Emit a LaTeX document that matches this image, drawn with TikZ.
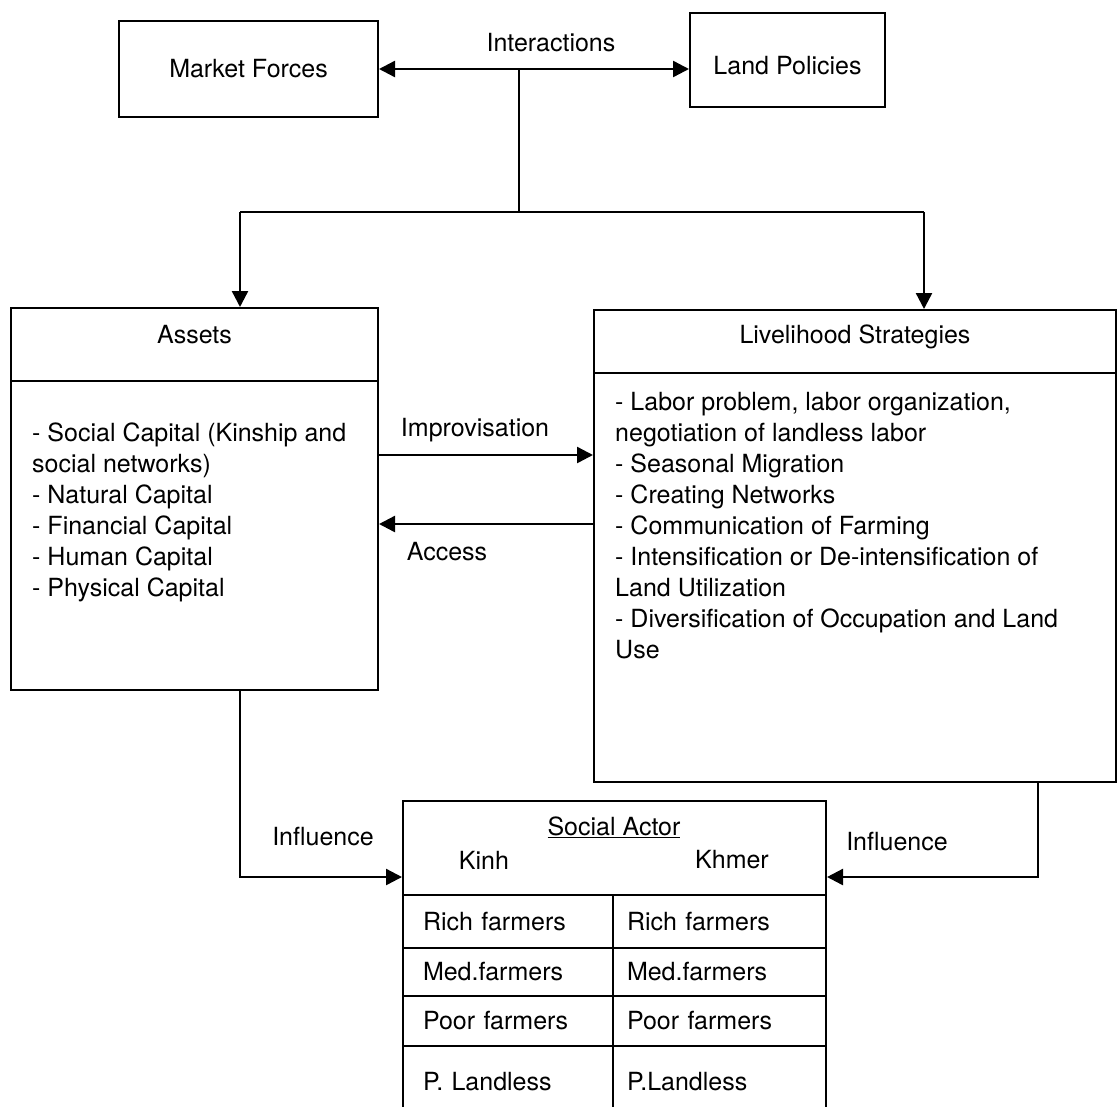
\documentclass[tikz,border=0pt]{standalone}
\usepackage{fontspec}
\setmainfont{TeX Gyre Heros}
\usetikzlibrary{arrows.meta}

\newcommand{\diagfont}{\fontsize{25}{31}\selectfont}

\tikzset{
  box/.style = {draw, line width=2pt, inner sep=0pt},
  lbl/.style = {inner sep=0pt},
  link/.style = {line width=2pt},
  arr/.style = {line width=2.4pt, -{Triangle[length=16pt, width=16pt]}},
  dblarr/.style = {line width=2.4pt, {Triangle[length=16pt, width=16pt]}-{Triangle[length=16pt, width=16pt]}},
  cellL/.style = {box, minimum width=210pt, text width=170pt, align=left},
  cellR/.style = {box, minimum width=213pt, text width=185pt, align=left}
}

\begin{document}
\begin{tikzpicture}[x = {(1pt, 0pt)}, y = {(0pt, -1pt)}, font=\diagfont]
  \useasboundingbox (0, 0) rectangle (1118, 1106);

  \node[box, minimum width=259pt, minimum height=96pt] (market) at (248.5, 69) {Market Forces};

  \node[box, minimum width=195pt, minimum height=94pt] (land) at (787.5, 60) {};
  \node[lbl] (landtitle) at (787.5, 66) {Land Policies};
  \draw[dblarr] (market.east) -- (market.east -| land.west);

  \node[lbl] (inter) at (551, 43) {Interactions};

  \coordinate (split) at (519, 212);
  \coordinate (toassets) at (240, 212);
  \coordinate (tolive) at (924, 212);
  \draw[link] (split |- market.east) -- (split);
  \draw[link] (toassets) -- (tolive);

  \node[box, minimum width=367pt, minimum height=73pt] (assetshead) at (194.5, 344.5) {};
  \node[box, minimum width=367pt, minimum height=309pt] (assetsbody) at (194.5, 535.5) {};
  \draw[arr] (toassets) -- (toassets |- assetshead.north);

  \node[lbl] (assetstitle) at (194.5, 335) {Assets};
  \node[lbl, anchor=north west, align=left] (assetslist) at (32, 423) {%
    - Social Capital (Kinship and\\
    social networks)\\
    - Natural Capital\\
    - Financial Capital\\
    - Human Capital\\
    - Physical Capital};

  \node[box, minimum width=522pt, minimum height=63pt] (livehead) at (855, 341.5) {};
  \node[box, minimum width=522pt, minimum height=409pt] (livebody) at (855, 577.5) {};
  \draw[arr] (tolive) -- (tolive |- livehead.north);

  \node[lbl] (livetitle) at (855, 337) {Livelihood Strategies};
  \node[lbl, anchor=north west, align=left] (livelist) at (615, 392) {%
    - Labor problem, labor organization,\\
    negotiation of landless labor\\
    - Seasonal Migration\\
    - Creating Networks\\
    - Communication of Farming\\
    - Intensification or De-intensification of\\
    Land Utilization\\
    - Diversification of Occupation and Land\\
    Use};

  \draw[arr] ([yshift=80.5pt]assetsbody.east) -- ([yshift=80.5pt]assetsbody.east -| livebody.west);
  \node[lbl] (improv) at (475, 430) {Improvisation};

  \draw[arr] ([yshift=53.5pt]livebody.west) -- ([yshift=53.5pt]livebody.west -| assetsbody.east);
  \node[lbl] (access) at (447, 552) {Access};

  \node[box, minimum width=423pt, minimum height=94pt] (tabhead) at (614.5, 848) {};
  \node[lbl] (actor) at (614, 827) {\underline{Social Actor}};
  \node[lbl] (kinh) at (484, 860) {Kinh};
  \node[lbl] (khmer) at (732, 860) {Khmer};

  \node[cellL, minimum height=53pt] (kinh1) at (508, 921.5) {Rich farmers};
  \node[cellR, minimum height=53pt] (khmer1) at (719.5, 921.5) {Rich farmers};

  \node[cellL, minimum height=48pt] (kinh2) at (508, 972) {Med.farmers};
  \node[cellR, minimum height=48pt] (khmer2) at (719.5, 972) {Med.farmers};

  \node[cellL, minimum height=50pt] (kinh3) at (508, 1021) {Poor farmers};
  \node[cellR, minimum height=50pt] (khmer3) at (719.5, 1021) {Poor farmers};

  \node[cellL, minimum height=72pt] (kinh4) at (508, 1082) {P. Landless};
  \node[cellR, minimum height=72pt] (khmer4) at (719.5, 1082) {P.Landless};

  \draw[arr] ([xshift=45.5pt]assetsbody.south) |- ([yshift=-29pt]tabhead.west);
  \node[lbl] (inflL) at (323, 837) {Influence};

  \draw[arr] ([xshift=183pt]livebody.south) |- ([yshift=-29pt]tabhead.east);
  \node[lbl] (inflR) at (897, 842) {Influence};
\end{tikzpicture}
\end{document}
